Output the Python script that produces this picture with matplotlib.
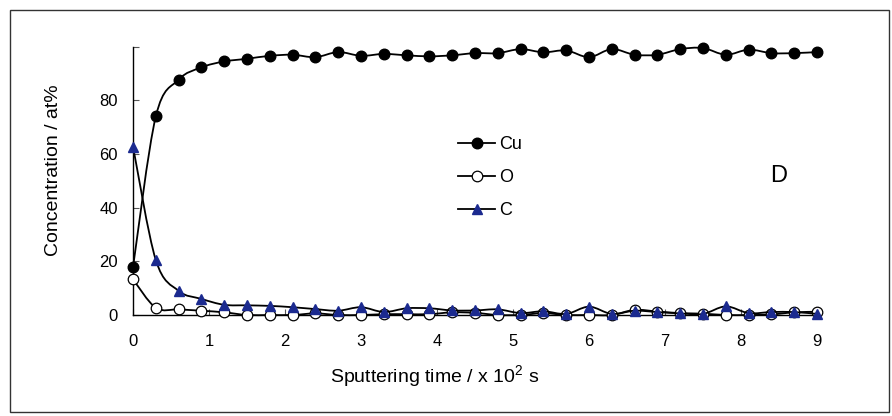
import matplotlib
matplotlib.use('Agg')
import matplotlib.pyplot as plt
from matplotlib.path import Path
from matplotlib.patches import PathPatch, Rectangle
from matplotlib.lines import Line2D

time = [0.0, 0.3, 0.6, 0.9, 1.2, 1.5, 1.8, 2.1, 2.4, 2.7, 3.0, 3.3, 3.6, 3.9, 4.2,
        4.5, 4.8, 5.1, 5.4, 5.7, 6.0, 6.3, 6.6, 6.9, 7.2, 7.5, 7.8, 8.1, 8.4, 8.7, 9.0]
cu = [17.8, 74.0, 87.7, 92.3, 94.5, 95.5, 96.6, 97.0, 96.1, 98.0, 96.6, 97.3, 96.8, 96.4, 96.8,
      97.6, 97.6, 99.1, 97.9, 98.6, 96.1, 99.1, 97.0, 97.0, 99.1, 99.5, 97.0, 98.9, 97.6, 97.6, 98.0]
o = [13.3, 2.7, 2.1, 1.6, 1.0, 0.0, 0.0, 0.0, 0.6, 0.0, 0.0, 0.3, 0.3, 0.3, 1.0,
     0.8, 0.0, 0.0, 0.7, 0.0, 0.0, 0.0, 1.9, 1.3, 0.7, 0.5, 0.0, 0.0, 0.2, 1.0, 1.2]
c = [62.8, 20.5, 9.0, 6.0, 3.8, 3.6, 3.4, 2.9, 2.2, 1.6, 2.9, 1.1, 2.5, 2.5, 1.7,
     1.7, 2.1, 0.7, 1.4, 0.4, 3.1, 0.4, 1.6, 1.1, 0.6, 0.4, 3.2, 0.7, 1.1, 1.1, 0.4]

series_names = ['Cu', 'O', 'C']
xticks = [0, 1, 2, 3, 4, 5, 6, 7, 8, 9]
yticks = [0, 20, 40, 60, 80, 100]
ytick_labels = ['0', '20', '40', '60', '80', '']

FONT = ['Liberation Sans', 'DejaVu Sans']
plt.rcParams['font.family'] = FONT
plt.rcParams['mathtext.fontset'] = 'custom'
plt.rcParams['mathtext.rm'] = 'Liberation Sans'
NAVY = '#1b2a8f'

fig = plt.figure(figsize=(8.92, 4.16), dpi=100)
W, H = 892, 416
ax = fig.add_axes([133 / W, 1 - 315 / H, (817 - 133) / W, (315 - 46.7) / H])
ax.set_xlim(0, 9)
ax.set_ylim(0, 100)


def smooth_path(xs, ys):
    n = len(xs)
    pts = list(zip(xs, ys))
    verts = [pts[0]]
    codes = [Path.MOVETO]
    for i in range(n - 1):
        p0 = pts[i - 1] if i > 0 else pts[i]
        p1 = pts[i]
        p2 = pts[i + 1]
        p3 = pts[i + 2] if i + 2 < n else pts[i + 1]
        c1 = (p1[0] + (p2[0] - p0[0]) / 6, p1[1] + (p2[1] - p0[1]) / 6)
        c2 = (p2[0] - (p3[0] - p1[0]) / 6, p2[1] - (p3[1] - p1[1]) / 6)
        verts += [c1, c2, p2]
        codes += [Path.CURVE4] * 3
    return Path(verts, codes)


styles = [
    dict(marker='o', mfc='black', mec='black', ms=7.6),
    dict(marker='o', mfc='white', mec='black', ms=7.6, mew=0.9),
    dict(marker='^', mfc=NAVY, mec=NAVY, ms=7.6),
]
for k, (ys, st) in enumerate(zip([cu, o, c], styles)):
    patch = PathPatch(smooth_path(time, ys), facecolor='none', edgecolor='black',
                      lw=1.3, clip_on=False, zorder=2 + k)
    ax.add_patch(patch)
    ax.plot(time, ys, linestyle='none', clip_on=False, zorder=2.5 + k, **st)

for s in ['top', 'right']:
    ax.spines[s].set_visible(False)
for s in ['left', 'bottom']:
    ax.spines[s].set_linewidth(1.0)
    ax.spines[s].set_color('black')

ax.set_xticks(xticks)
ax.set_xticklabels([str(t) for t in xticks])
ax.set_yticks(yticks)
ax.set_yticklabels(ytick_labels)
ax.tick_params(axis='both', direction='in', length=4, width=0.8, color='#555555',
               labelsize=12)
ax.tick_params(axis='y', pad=11)
ax.tick_params(axis='x', pad=14)

fig.text(435 / W, 1 - 377 / H, 'Sputtering time / x 10$^{2}$ s', ha='center', va='center',
         fontsize=14)
fig.text(54 / W, 1 - 170 / H, 'Concentration / at%', ha='center', va='center',
         rotation=90, fontsize=14)
fig.text(779 / W, 1 - 176 / H, 'D', ha='center', va='center', fontsize=17)

handles = [Line2D([0], [0], color='black', lw=1.3, **st) for st in styles]
leg = ax.legend(handles, series_names, loc='upper left',
                bbox_to_anchor=((451 - 133) / (817 - 133), (315 - 129) / (315 - 46.7)),
                frameon=False, fontsize=13, handlelength=2.05, handletextpad=0.22,
                labelspacing=0.88, borderaxespad=0)

fig.patches.append(Rectangle((9.5 / W, 1 - 411.5 / H), (888.5 - 9.5) / W, (411.5 - 9.5) / H,
                             transform=fig.transFigure, fill=False, edgecolor='#333333',
                             lw=1.0))

fig.savefig('out.png', dpi=100)
